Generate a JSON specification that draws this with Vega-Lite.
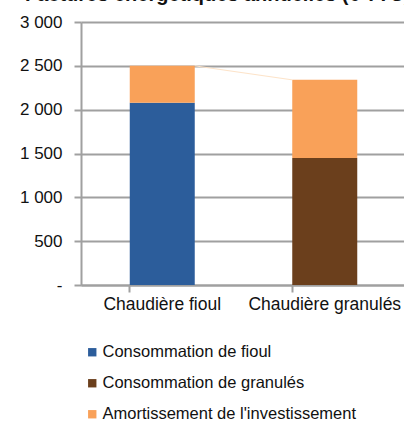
{
  "$schema": "https://vega.github.io/schema/vega-lite/v6.json",
  "autosize": "none",
  "width": 325,
  "height": 263,
  "padding": {"left": 81, "top": 22, "right": 0, "bottom": 138},
  "background": "white",
  "title": {
    "text": "Factures énergétiques annuelles (€ TTC)",
    "anchor": "start",
    "frame": "group",
    "dx": -56,
    "offset": 8,
    "font": "Liberation Sans",
    "fontSize": 20,
    "fontWeight": "bold",
    "color": "#111111"
  },
  "config": {
    "view": {"stroke": null},
    "font": "Liberation Sans"
  },
  "datasets": {
    "bars": [
      {"chaudiere": "Chaudière fioul", "poste": "Consommation de fioul", "valeur": 2080, "ordre": 1},
      {"chaudiere": "Chaudière fioul", "poste": "Amortissement de l'investissement", "valeur": 420, "ordre": 2},
      {"chaudiere": "Chaudière granulés", "poste": "Consommation de granulés", "valeur": 1450, "ordre": 1},
      {"chaudiere": "Chaudière granulés", "poste": "Amortissement de l'investissement", "valeur": 890, "ordre": 2}
    ],
    "liaison": [
      {"de": "Chaudière fioul", "vers": "Chaudière granulés", "total_de": 2500, "total_vers": 2340}
    ]
  },
  "layer": [
    {
      "data": {"name": "bars"},
      "mark": {"type": "bar"},
      "encoding": {
        "x": {
          "field": "chaudiere",
          "type": "nominal",
          "sort": ["Chaudière fioul", "Chaudière granulés"],
          "scale": {"paddingInner": 0.6, "paddingOuter": 0.3},
          "axis": {
            "title": null,
            "labelAngle": 0,
            "labelFontSize": 17.5,
            "labelColor": "#111111",
            "labelPadding": 3,
            "labelLimit": 200,
            "bandPosition": 0,
            "tickSize": 7,
            "tickColor": "#a0a0a0",
            "tickWidth": 2,
            "domainColor": "#a0a0a0",
            "domainWidth": 2
          }
        },
        "y": {
          "field": "valeur",
          "type": "quantitative",
          "stack": "zero",
          "scale": {"domain": [0, 3000]},
          "axis": {
            "title": null,
            "values": [0, 500, 1000, 1500, 2000, 2500, 3000],
            "labelExpr": "datum.value == 0 ? '-' : replace(format(datum.value, ','), ',', ' ')",
            "labelFontSize": 17,
            "labelColor": "#111111",
            "labelPadding": 12,
            "tickSize": 7,
            "tickColor": "#a0a0a0",
            "tickWidth": 2,
            "domainColor": "#a0a0a0",
            "domainWidth": 2,
            "gridColor": "#a0a0a0",
            "gridWidth": 2,
            "gridOpacity": 1
          }
        },
        "color": {
          "field": "poste",
          "type": "nominal",
          "scale": {
            "domain": ["Consommation de fioul", "Consommation de granulés", "Amortissement de l'investissement"],
            "range": ["#2c5d9b", "#6b3f1c", "#f9a159"]
          },
          "legend": {
            "orient": "none",
            "legendX": 3,
            "legendY": 322,
            "title": null,
            "symbolType": "square",
            "symbolSize": 70,
            "symbolStrokeWidth": 0,
            "labelFontSize": 16.5,
            "labelColor": "#111111",
            "labelOffset": 2,
            "rowPadding": 14,
            "labelLimit": 400
          }
        },
        "order": {"field": "ordre", "type": "quantitative"}
      }
    },
    {
      "data": {"name": "liaison"},
      "mark": {"type": "rule", "color": "#fde3c8", "strokeWidth": 1},
      "encoding": {
        "x": {"field": "de", "type": "nominal", "bandPosition": 1},
        "x2": {"field": "vers", "bandPosition": 0},
        "y": {"field": "total_de", "type": "quantitative"},
        "y2": {"field": "total_vers"}
      }
    }
  ]
}
